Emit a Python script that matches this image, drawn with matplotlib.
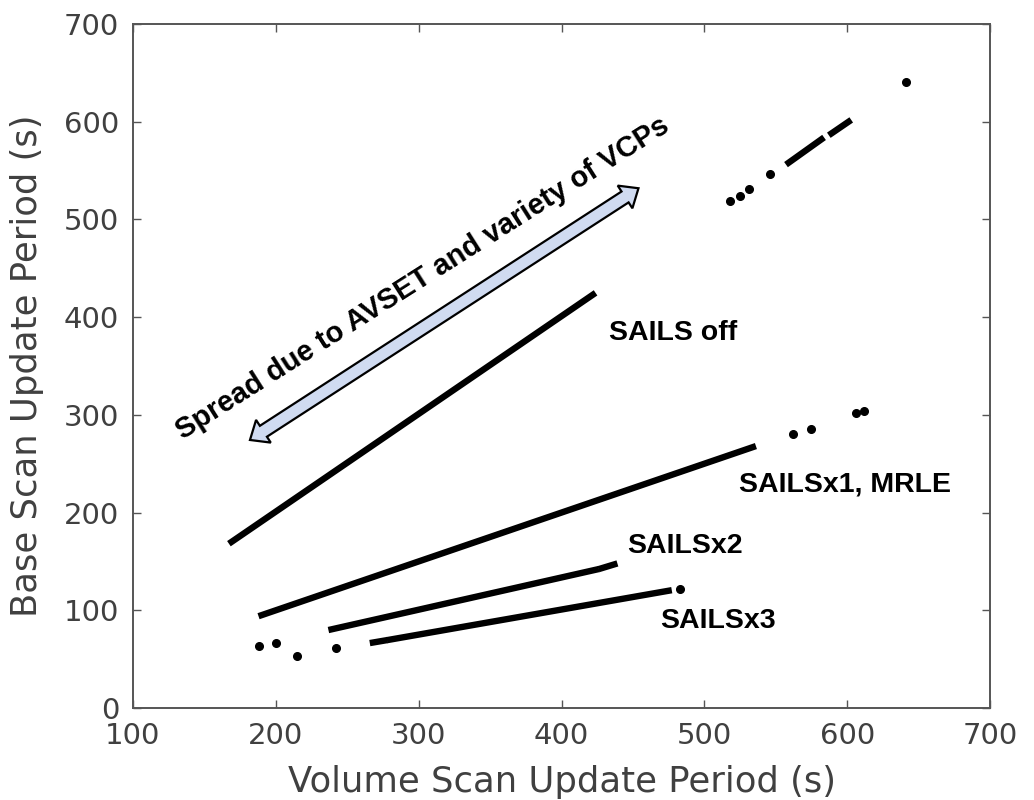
import numpy as np
import matplotlib
matplotlib.use('Agg')
import matplotlib.pyplot as plt
from matplotlib.patches import Polygon

# segments are dense runs of points, (start, end)
off_seg_x = [(169, 422), (559, 582), (589, 601)]
off_seg_y = [(170, 423), (558, 582), (588, 600)]
off_pts_x = [518, 525, 531, 546, 641]
off_pts_y = [519, 524, 531, 546, 641]

x1_seg_x = [(190, 534)]
x1_seg_y = [(95, 267)]
x1_pts_x = [562, 575, 606, 612]
x1_pts_y = [280, 286, 302, 304]

x2_seg_x = [(239, 424), (428, 437)]
x2_seg_y = [(80.5, 141.5), (143, 147)]
x2_pts_x = [188, 200]
x2_pts_y = [63.5, 67]

x3_seg_x = [(268, 276), (280, 475)]
x3_seg_y = [(67, 69), (70, 120)]
x3_pts_x = [214.5, 242, 483]
x3_pts_y = [53.7, 61.8, 121.3]

labels = ['SAILS off', 'SAILSx1, MRLE', 'SAILSx2', 'SAILSx3']
label_x = [433, 524, 446, 469]
label_y = [383.5, 228.6, 165.4, 89.3]

arrow_tail = (181.9, 274.3)
arrow_head = (453.9, 531.9)
arrow_text = 'Spread due to AVSET and variety of VCPs'

gray = '#404040'

fig = plt.figure(figsize=(10.34, 8), dpi=100)
ax = fig.add_axes([133/1034, 92/800, 857/1034, 684/800])

series = [(off_seg_x, off_seg_y, off_pts_x, off_pts_y),
          (x1_seg_x, x1_seg_y, x1_pts_x, x1_pts_y),
          (x2_seg_x, x2_seg_y, x2_pts_x, x2_pts_y),
          (x3_seg_x, x3_seg_y, x3_pts_x, x3_pts_y)]
for sx, sy, px, py in series:
    for (xa, xb), (ya, yb) in zip(sx, sy):
        ax.plot([xa, xb], [ya, yb], color='k', lw=4.6, solid_capstyle='projecting')
    ax.plot(px, py, 'o', color='k', ms=5.5)

ax.set_xlim(100, 700)
ax.set_ylim(0, 700)
ax.set_xticks(np.arange(100, 701, 100))
ax.set_yticks(np.arange(0, 701, 100))
ax.tick_params(direction='in', length=6, width=1, color='#555555', top=True, right=True,
               labelsize=21, labelcolor=gray, pad=10)
for s in ax.spines.values():
    s.set_color('#555555')
    s.set_linewidth(1.4)
ax.set_xlabel('Volume Scan Update Period (s)', fontsize=25.5, color=gray, labelpad=11)
ax.set_ylabel('Base Scan Update Period (s)', fontsize=25.5, color=gray, labelpad=14)

for t, tx, ty in zip(labels, label_x, label_y):
    ax.text(tx, ty, t, fontsize=20.5, fontweight='bold', family='Liberation Sans',
            ha='left', va='center')

# double headed arrow, built in pixel space from the two data end points
p0 = ax.transData.transform(arrow_tail)
p1 = ax.transData.transform(arrow_head)
d = p1 - p0
u = d / np.hypot(*d)
n = np.array([-u[1], u[0]])
hl, hw, sw = 16, 13.5, 6.5
pts = [p0, p0 + u*hl + n*hw, p0 + u*hl + n*sw, p1 - u*hl + n*sw, p1 - u*hl + n*hw,
       p1, p1 - u*hl - n*hw, p1 - u*hl - n*sw, p0 + u*hl - n*sw, p0 + u*hl - n*hw]
ax.add_patch(Polygon(pts, closed=True, transform=None, facecolor='#d0dbf1',
                     edgecolor='k', lw=1.6, joinstyle='miter'))

ax.text(135, 274, arrow_text, fontsize=21, fontweight='bold', family='Liberation Sans',
        rotation=32.4, rotation_mode='anchor', ha='left', va='baseline')

fig.savefig('out.png', dpi=100)
